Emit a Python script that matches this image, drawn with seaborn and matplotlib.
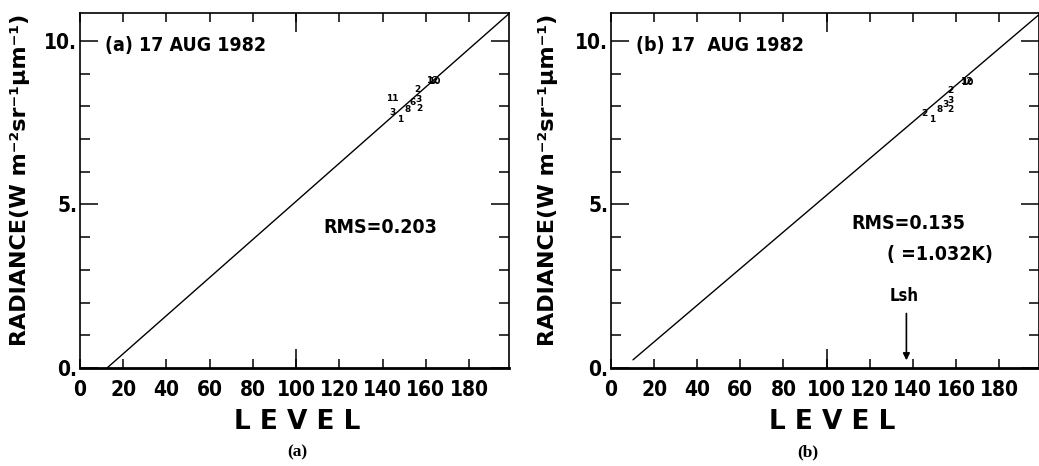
import matplotlib
matplotlib.use("Agg")
import matplotlib.pyplot as plt
import pandas as pd
import seaborn as sns
from matplotlib.ticker import FixedLocator, MultipleLocator

# Calibration fit lines: level vs. radiance end points
fit_level_a = [12.5, 198.5]
fit_rad_a = [0.0, 10.83]
fit_level_b = [10.2, 198.5]
fit_rad_b = [0.25, 10.80]

# Observations, each plotted with its own symbol character
sym_a = ["11", "3", "1", "8", "6", "2", "3", "2", "12", "10"]
lev_a = [144.4, 144.4, 148.1, 151.4, 153.7, 156.0, 156.8, 156.8, 163.0, 163.9]
rad_a = [8.23, 7.80, 7.58, 7.89, 8.10, 8.52, 8.22, 7.92, 8.78, 8.75]

sym_b = ["2", "1", "8", "3", "2", "3", "2", "12", "10"]
lev_b = [145.4, 149.1, 152.3, 155.1, 157.4, 157.6, 157.6, 164.8, 165.3]
rad_b = [7.77, 7.58, 7.89, 8.04, 8.48, 8.18, 7.89, 8.75, 8.73]

x_ticks = [0, 20, 40, 60, 80, 100, 120, 140, 160, 180]
y_ticks = [0, 5, 10]
y_tick_labels = ["0.", "5.", "10."]

titles = ["(a) 17 AUG 1982", "(b) 17  AUG 1982"]
rms_a = "RMS=0.203"
rms_b = "RMS=0.135"
rms_b_k = "( =1.032K)"
shift_label = "Lsh"
shift_level = 137
ylabel = "RADIANCE(W m⁻²sr⁻¹μm⁻¹)"
xlabel = "L E V E L"
captions = ["(a)", "(b)"]

sns.set_theme(style="ticks")
plt.rcParams["font.family"] = ["DejaVu Sans"]
plt.rcParams["font.weight"] = "bold"
for key in ["text.color", "axes.labelcolor", "xtick.color", "ytick.color",
            "axes.edgecolor"]:
    plt.rcParams[key] = "black"

fig = plt.figure(figsize=(10.39, 4.66), dpi=100)
W, H = 1039, 466

def make_axes(left_px, width_px):
    return fig.add_axes([left_px / W, 98 / H, width_px / W, 355 / H])

ax_a = make_axes(80, 429)
ax_b = make_axes(611, 428)

def style_axes(ax, ylab_x, xlab_x):
    ax.set_xlim(0, 198.5)
    ax.set_ylim(0, 10.85)
    ax.xaxis.set_major_locator(FixedLocator(x_ticks))
    ax.xaxis.set_minor_locator(FixedLocator([100]))
    ax.xaxis.remove_overlapping_locs = False
    ax.yaxis.set_major_locator(FixedLocator(y_ticks))
    ax.yaxis.set_minor_locator(MultipleLocator(1))
    ax.set_yticklabels(y_tick_labels)
    ax.set_xticklabels([str(t) for t in x_ticks])
    ax.tick_params(axis="both", which="both", direction="in", top=True,
                   right=True, color="black", width=1.1)
    ax.tick_params(axis="x", which="major", length=6.5, pad=9,
                   labelsize=15)
    ax.tick_params(axis="x", which="minor", length=14)
    ax.tick_params(axis="y", which="major", length=13, pad=2,
                   labelsize=15)
    ax.tick_params(axis="y", which="minor", length=7)
    for lab in ax.get_xticklabels() + ax.get_yticklabels():
        lab.set_fontstretch("condensed")
        lab.set_fontweight("bold")
    for side, sp in ax.spines.items():
        sp.set_color("black")
        sp.set_linewidth(1.2)
    ax.spines["bottom"].set_linewidth(2.0)
    ax.set_ylabel(ylabel, fontsize=16, fontweight="bold")
    ax.yaxis.set_label_coords(ylab_x, 0.53)
    ax.set_xlabel(xlabel, fontsize=19, fontweight="bold")
    ax.xaxis.set_label_coords(xlab_x, -0.115)
    ax.grid(False)

def draw_points(ax, syms, levs, rads):
    for s, lx, ry in zip(syms, levs, rads):
        ax.text(lx, ry, s, fontsize=6.5, fontweight="bold",
                ha="center", va="center", color="black")

# panel (a)
sns.lineplot(x=fit_level_a, y=fit_rad_a, ax=ax_a, color="black", lw=1.0)
draw_points(ax_a, sym_a, lev_a, rad_a)
ax_a.text(11.6, 9.85, titles[0], fontsize=14, fontweight="bold",
          va="center", ha="left", fontstretch="condensed")
ax_a.text(112.5, 4.3, rms_a, fontsize=14, fontweight="bold",
          va="center", ha="left", fontstretch="condensed")
style_axes(ax_a, -0.117, 0.506)

# panel (b)
sns.lineplot(x=fit_level_b, y=fit_rad_b, ax=ax_b, color="black", lw=1.0)
draw_points(ax_b, sym_b, lev_b, rad_b)
ax_b.text(11.6, 9.85, titles[1], fontsize=14, fontweight="bold",
          va="center", ha="left", fontstretch="condensed")
ax_b.text(111.6, 4.43, rms_b, fontsize=14, fontweight="bold",
          va="center", ha="left", fontstretch="condensed")
ax_b.text(127.8, 3.48, rms_b_k, fontsize=14, fontweight="bold",
          va="center", ha="left", fontstretch="condensed")
ax_b.text(shift_level - 1, 2.2, shift_label, fontsize=12,
          fontweight="bold", va="center", ha="center",
          fontstretch="condensed")
ax_b.annotate("", xy=(shift_level, 0.15), xytext=(shift_level, 1.75),
              arrowprops=dict(arrowstyle="-|>", color="black", lw=1.2,
                              mutation_scale=10))
style_axes(ax_b, -0.124, 0.516)

for cap, cx in zip(captions, [297, 808]):
    fig.text(cx / W, 1 - 452 / H, cap, fontsize=12.5, family="Liberation Serif",
             fontweight="bold", ha="center", va="center")

fig.savefig("out.png", dpi=100, facecolor="white")
